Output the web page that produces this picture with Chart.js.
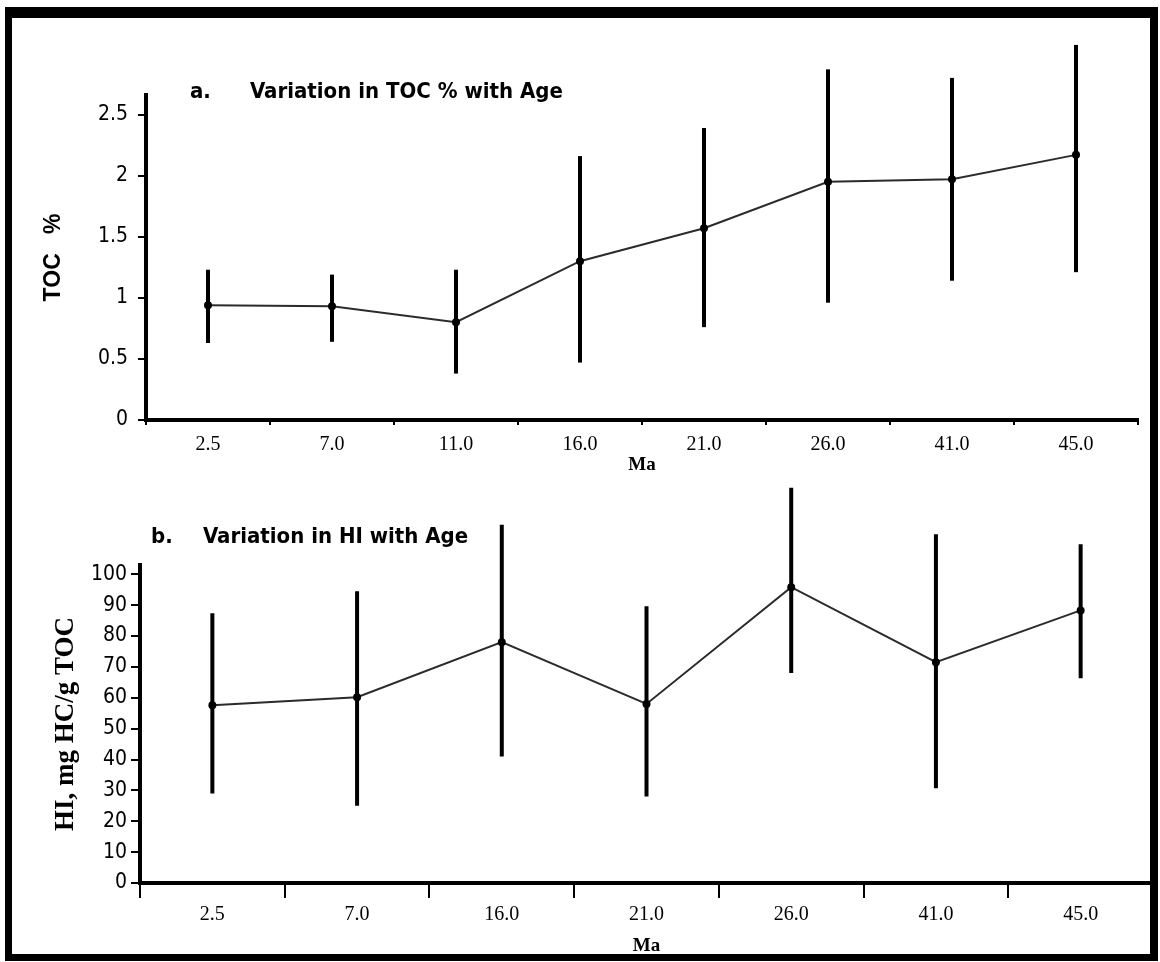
<!DOCTYPE html>
<html>
<head>
<meta charset="utf-8">
<script src="https://cdn.jsdelivr.net/npm/chart.js@4.4.0/dist/chart.umd.min.js"></script>
<style>
    html, body { margin: 0; padding: 0; background: #fff; }
    body { width: 1160px; height: 962px; position: relative; overflow: hidden; }
    .frame {
        position: absolute; left: 5px; top: 7px; width: 1138px; height: 936px;
        border-style: solid; border-color: #000; border-width: 11px 8px 7px 7px;
        z-index: 2; pointer-events: none;
    }
    canvas { position: absolute; left: 0; }
    #tocChart { top: 0; }
    #hiChart { top: 470px; }
</style>
</head>
<body>
<div class="frame"></div>
<canvas id="tocChart" width="1160" height="470"></canvas>
<canvas id="hiChart" width="1160" height="492"></canvas>
<script>
// panel a: TOC % by age
const tocAges = ['2.5', '7.0', '11.0', '16.0', '21.0', '26.0', '41.0', '45.0'];
const tocMean = [0.94, 0.93, 0.80, 1.30, 1.57, 1.95, 1.97, 2.17];
const tocLow = [0.63, 0.64, 0.38, 0.47, 0.76, 0.96, 1.14, 1.21];
const tocHigh = [1.23, 1.19, 1.23, 2.16, 2.39, 2.87, 2.80, 3.07];
const tocTicks = [0, 0.5, 1, 1.5, 2, 2.5];

// panel b: HI by age
const hiAges = ['2.5', '7.0', '16.0', '21.0', '26.0', '41.0', '45.0'];
const hiMean = [57.6, 60.2, 78, 58, 95.8, 71.5, 88.3];
const hiLow = [29, 25, 41, 28, 68, 30.7, 66.3];
const hiHigh = [87.4, 94.5, 116, 89.6, 128, 113, 109.7];
const hiTicks = [0, 10, 20, 30, 40, 50, 60, 70, 80, 90, 100];

const narrow = "'Liberation Sans Narrow', 'DejaVu Sans Condensed', Arial, sans-serif";
const serif = "'Liberation Serif', 'Times New Roman', serif";

// vertical range bars behind the line
const errorBars = {
    id: 'errorBars',
    beforeDatasetsDraw(chart, args, opts) {
        const ctx = chart.ctx;
        const x = chart.scales.x;
        const y = chart.scales.y;
        ctx.save();
        ctx.strokeStyle = '#000';
        ctx.lineWidth = 4;
        opts.low.forEach((lo, i) => {
            const px = x.getPixelForValue(i);
            ctx.beginPath();
            ctx.moveTo(px, y.getPixelForValue(lo));
            ctx.lineTo(px, y.getPixelForValue(opts.high[i]));
            ctx.stroke();
        });
        ctx.restore();
    }
};

const panelTitle = {
    id: 'panelTitle',
    afterDraw(chart, args, opts) {
        const ctx = chart.ctx;
        ctx.save();
        ctx.fillStyle = '#000';
        ctx.font = "bold 22px " + narrow;
        ctx.textBaseline = 'middle';
        ctx.fillText(opts.label, opts.x, opts.y);
        ctx.fillText(opts.text, opts.textX, opts.y);
        ctx.restore();
    }
};

function makeChart(id, cfg) {
    return new Chart(document.getElementById(id), {
        type: 'line',
        data: {
            labels: cfg.labels,
            datasets: [{
                data: cfg.mean,
                borderColor: '#2b2b2b',
                borderWidth: 2,
                pointRadius: 3,
                pointBackgroundColor: '#000',
                pointBorderColor: '#000',
                tension: 0
            }]
        },
        plugins: [errorBars, panelTitle],
        options: {
            responsive: false,
            animation: false,
            devicePixelRatio: 1,
            layout: { padding: cfg.padding },
            plugins: {
                legend: { display: false },
                tooltip: { enabled: false },
                errorBars: { low: cfg.low, high: cfg.high },
                panelTitle: cfg.title
            },
            scales: {
                x: {
                    type: 'category',
                    offset: true,
                    afterFit: s => { s.height = cfg.xHeight; },
                    border: { display: true, color: '#000', width: 4 },
                    grid: {
                        offset: true, drawOnChartArea: false, drawTicks: true,
                        tickLength: cfg.xTickLen, lineWidth: 2, color: '#000'
                    },
                    ticks: {
                        color: '#000', padding: cfg.xTickPad, maxRotation: 0,
                        font: { family: serif, size: 20 }
                    },
                    title: {
                        display: true, text: 'Ma', color: '#000',
                        padding: { top: 0, bottom: cfg.maPad },
                        font: { family: serif, size: 19, weight: 'bold' }
                    }
                },
                y: {
                    min: 0,
                    max: cfg.yMax,
                    afterFit: s => { s.width = cfg.yWidth; },
                    afterBuildTicks: s => { s.ticks = cfg.yTicks.map(v => ({ value: v })); },
                    border: { display: true, color: '#000', width: 4 },
                    grid: {
                        drawOnChartArea: false, drawTicks: true,
                        tickLength: cfg.yTickLen, lineWidth: 2, color: '#000'
                    },
                    ticks: {
                        color: '#000', padding: cfg.yTickPad,
                        font: { family: narrow, size: 21 },
                        callback: v => String(v)
                    },
                    title: {
                        display: true, text: cfg.yTitle, color: '#000',
                        padding: { top: cfg.yTitlePad, bottom: 0 },
                        font: cfg.yTitleFont
                    }
                }
            }
        }
    });
}

makeChart('tocChart', {
    labels: tocAges, mean: tocMean, low: tocLow, high: tocHigh,
    yMax: 2.66, yTicks: tocTicks,
    padding: { top: 95, right: 22, left: 0, bottom: 0 },
    xHeight: 50, yWidth: 146,
    xTickLen: 5, xTickPad: 8, yTickLen: 8, yTickPad: 10,
    maPad: -6,
    yTitle: 'TOC   %', yTitlePad: 40,
    yTitleFont: { family: "'Liberation Sans', Arial, sans-serif", size: 23, weight: 'bold' },
    title: { label: 'a.', text: 'Variation in TOC % with Age', x: 190, textX: 250, y: 92 }
});

makeChart('hiChart', {
    labels: hiAges, mean: hiMean, low: hiLow, high: hiHigh,
    yMax: 103, yTicks: hiTicks,
    padding: { top: 95, right: 7, left: 0, bottom: 0 },
    xHeight: 79, yWidth: 140,
    xTickLen: 15, xTickPad: 5, yTickLen: 9, yTickPad: 4,
    maPad: 5,
    yTitle: 'HI, mg HC/g TOC', yTitlePad: 50,
    yTitleFont: { family: serif, size: 27, weight: 'bold' },
    title: { label: 'b.', text: 'Variation in HI with Age', x: 151, textX: 203, y: 67 }
});
</script>
</body>
</html>
